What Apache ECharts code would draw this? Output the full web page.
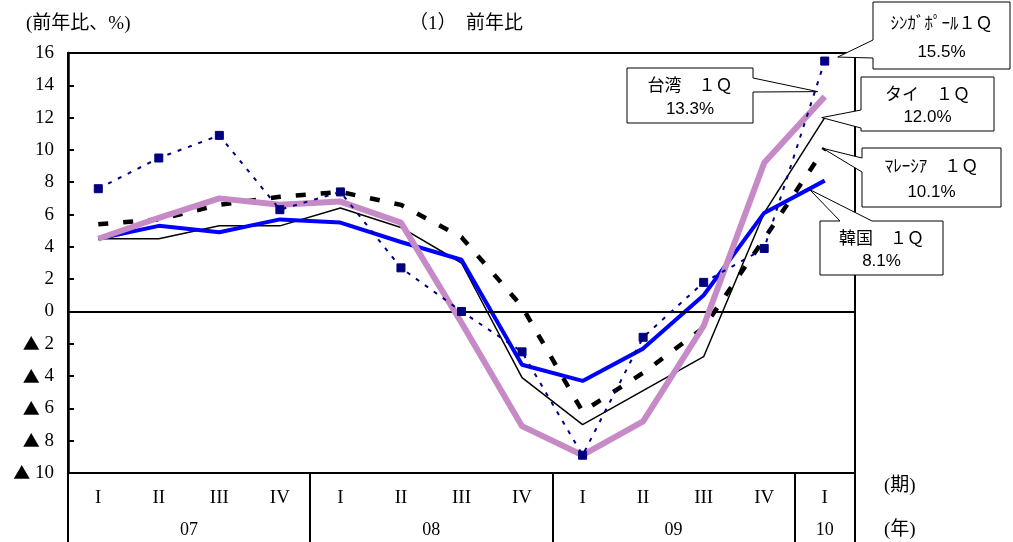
<!DOCTYPE html>
<html>
<head>
<meta charset="utf-8">
<script src="https://cdn.jsdelivr.net/npm/echarts@6/dist/echarts.min.js"></script>
<style>
  html, body { margin: 0; padding: 0; background: #fff; }
  #chart { width: 1013px; height: 542px; }
</style>
</head>
<body>
<div id="chart"></div>
<script>
// Quarterly year-on-year growth (%), 2007 Q1 – 2010 Q1
const quarters = ['I', 'II', 'III', 'IV', 'I', 'II', 'III', 'IV', 'I', 'II', 'III', 'IV', 'I'];
const years = ['07', '08', '09', '10'];
const yearCenters = [2, 6, 10, 12.5];
const yearBounds = [0, 4, 8, 12, 13];

const korea     = [4.5, 5.3, 4.9, 5.7, 5.5, 4.3, 3.2, -3.3, -4.3, -2.3, 1.0, 6.1, 8.1];
const taiwan    = [4.5, 5.8, 7.0, 6.6, 6.8, 5.5, -0.7, -7.1, -8.9, -6.8, -0.9, 9.2, 13.3];
const singapore = [7.6, 9.5, 10.9, 6.3, 7.4, 2.7, 0.0, -2.5, -8.9, -1.6, 1.8, 3.9, 15.5];
const thailand  = [4.5, 4.5, 5.3, 5.3, 6.4, 5.2, 3.0, -4.1, -7.0, -4.9, -2.8, 6.1, 12.0];
const malaysia  = [5.4, 5.7, 6.6, 7.1, 7.4, 6.6, 4.6, 0.3, -6.2, -3.8, -1.0, 4.5, 10.1];

const SERIF = "'Liberation Serif', 'Noto Sans CJK JP', serif";
const SANS = "'Liberation Sans', 'Noto Sans CJK JP', sans-serif";
const CJK = "'Noto Sans CJK JP', sans-serif";

const chart = echarts.init(document.getElementById('chart'), null, { renderer: 'canvas' });

const headText = { fontFamily: SERIF, fontSize: 19, fontWeight: 'normal', color: '#000' };

const option = {
  animation: false,
  backgroundColor: '#fff',
  title: [
    { text: '(前年比、%)', left: 21, top: 10, textStyle: headText },
    { text: '（1）　前年比', left: 404, top: 10, textStyle: headText },
    { text: '(期)', left: 879, top: 472, textStyle: headText },
    { text: '(年)', left: 879, top: 516, textStyle: headText }
  ],
  grid: {
    left: 68, right: 158, top: 53, bottom: 69,
    show: true, borderColor: '#000', borderWidth: 2, backgroundColor: 'transparent'
  },
  xAxis: [
    {
      type: 'category',
      data: quarters,
      boundaryGap: true,
      axisLine: { show: true, lineStyle: { color: '#000', width: 2 } },
      axisTick: { show: false },
      axisLabel: { margin: 16, fontFamily: SERIF, fontSize: 19, color: '#000' },
      splitLine: { show: false }
    },
    {
      // year row of the table under the axis
      type: 'value',
      position: 'bottom',
      min: 0, max: 13,
      axisLine: { show: false },
      splitLine: { show: false },
      axisTick: {
        show: true, inside: false, length: 70,
        customValues: yearBounds,
        lineStyle: { color: '#000', width: 2 }
      },
      axisLabel: {
        show: true, margin: 48,
        customValues: yearCenters,
        formatter: v => {
          const i = yearCenters.indexOf(v);
          return i >= 0 ? years[i] : '';
        },
        fontFamily: SERIF, fontSize: 18, color: '#000'
      }
    }
  ],
  yAxis: {
    type: 'value',
    min: -10, max: 16, interval: 2,
    axisLine: { show: true, lineStyle: { color: '#000', width: 2.5 } },
    axisTick: { show: true, inside: true, length: 6, lineStyle: { color: '#000', width: 2 } },
    axisLabel: {
      margin: 14,
      fontFamily: SERIF, fontSize: 19, color: '#000',
      formatter: v => (v < 0 ? '{t|▲} ' + (-v) : String(v)),
      rich: { t: { fontFamily: CJK, fontSize: 17, color: '#000' } }
    },
    splitLine: { show: false }
  },
  series: [
    {
      name: 'タイ', type: 'line', data: thailand, symbol: 'none', z: 2,
      lineStyle: { color: '#000', width: 1.5 },
      markLine: {
        silent: true, symbol: 'none', label: { show: false },
        lineStyle: { color: '#000', width: 2, type: 'solid' },
        data: [{ yAxis: 0 }]
      }
    },
    {
      name: 'マレーシア', type: 'line', data: malaysia, symbol: 'none', z: 3,
      lineStyle: { color: '#000', width: 4.5, type: [10, 15] }
    },
    {
      name: '韓国', type: 'line', data: korea, symbol: 'none', z: 4,
      lineStyle: { color: '#0000ff', width: 4 }
    },
    {
      name: '台湾', type: 'line', data: taiwan, symbol: 'none', z: 5,
      lineStyle: { color: '#c68ac6', width: 6 }
    },
    {
      name: 'シンガポール', type: 'line', data: singapore, z: 6,
      symbol: 'rect', symbolSize: 8,
      itemStyle: { color: '#000080', borderColor: '#000080', borderWidth: 1 },
      lineStyle: { color: '#000080', width: 2, type: [4, 7] }
    }
  ]
};

chart.setOption(option);

// Callout boxes with wedge pointers to the latest quarter of each series
const last = quarters.length - 1;
const callouts = [
  { lines: ['ｼﾝｶﾞﾎﾟｰﾙ１Ｑ', singapore[last].toFixed(1) + '%'], box: [873, 2, 1010, 69], side: 'left', wedge: [40, 58], value: singapore[last], off: [13, -4] },
  { lines: ['台湾　１Ｑ', taiwan[last].toFixed(1) + '%'], box: [627, 68, 753, 123], side: 'right', wedge: [78, 92], value: taiwan[last], off: [-7, -5] },
  { lines: ['タイ　１Ｑ', thailand[last].toFixed(1) + '%'], box: [861, 77, 994, 131], side: 'left', wedge: [110, 128], value: thailand[last], off: [-3, 0] },
  { lines: ['ﾏﾚｰｼｱ　１Ｑ', malaysia[last].toFixed(1) + '%'], box: [862, 148, 1001, 207], side: 'left', wedge: [158, 172], value: malaysia[last], off: [-2, 0] },
  { lines: ['韓国　１Ｑ', korea[last].toFixed(1) + '%'], box: [820, 221, 943, 275], side: 'top', wedge: [840, 872], value: korea[last], off: [-15, 9] }
];

const graphics = [];
callouts.forEach(c => {
  const p = chart.convertToPixel({ xAxisIndex: 0, yAxisIndex: 0 }, [last, c.value]);
  const tip = [p[0] + c.off[0], p[1] + c.off[1]];
  const [x1, y1, x2, y2] = c.box;
  const [a, b] = c.wedge;
  let pts;
  if (c.side === 'left') {
    pts = [[x1, y1], [x2, y1], [x2, y2], [x1, y2], [x1, b], tip, [x1, a]];
  } else if (c.side === 'right') {
    pts = [[x1, y1], [x2, y1], [x2, a], tip, [x2, b], [x2, y2], [x1, y2]];
  } else {
    pts = [[x1, y1], [a, y1], tip, [b, y1], [x2, y1], [x2, y2], [x1, y2]];
  }
  graphics.push({
    type: 'polygon', z: 100,
    shape: { points: pts },
    style: { fill: '#fff', stroke: '#000', lineWidth: 1 }
  });
  const cx = (x1 + x2) / 2;
  const h = y2 - y1;
  c.lines.forEach((t, i) => {
    graphics.push({
      type: 'text', z: 101,
      x: cx, y: y1 + h * (i === 0 ? 0.33 : 0.75),
      style: { text: t, fill: '#000', font: '17px ' + SANS, align: 'center', verticalAlign: 'middle' }
    });
  });
});

chart.setOption({ graphic: graphics });
</script>
</body>
</html>
